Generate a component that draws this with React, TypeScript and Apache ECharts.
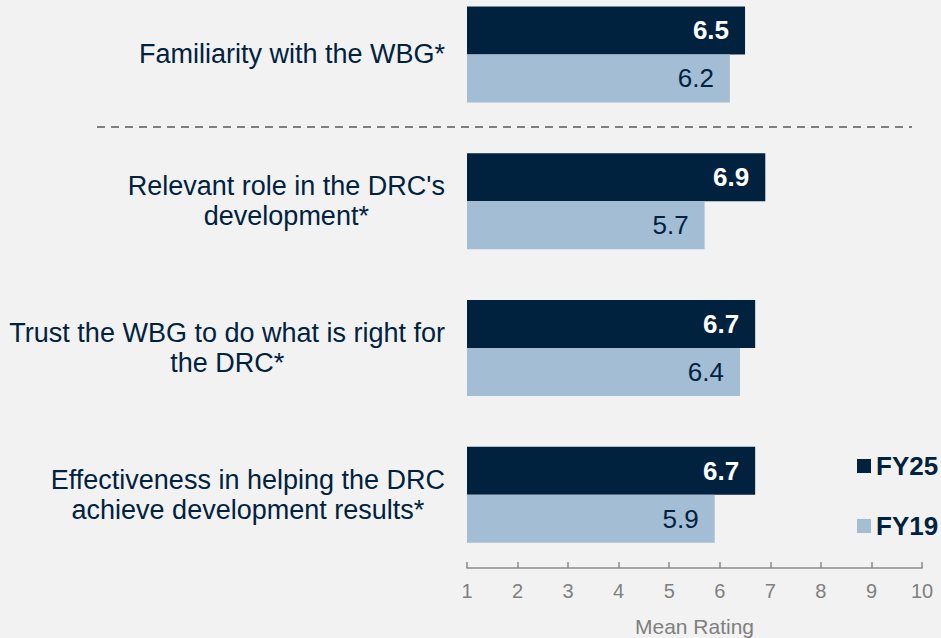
import React, { useEffect, useRef } from "react";
import * as echarts from "echarts";

const categories = [
  "Familiarity with the WBG*",
  "Relevant role in the DRC's\ndevelopment*",
  "Trust the WBG to do what is right for\nthe DRC*",
  "Effectiveness in helping the DRC\nachieve development results*",
];
const fy25Values = [6.5, 6.9, 6.7, 6.7];
const fy19Values = [6.2, 5.7, 6.4, 5.9];
const seriesNames = ["FY25", "FY19"];
const xTicks = { min: 1, max: 10, interval: 1 };

const NAVY = "#00223f";
const LIGHT = "#a3bdd5";
const GRAY = "#7f7f7f";
const OFFSET = 19;

export default function App() {
  const ref = useRef<HTMLDivElement>(null);
  useEffect(() => {
    document.body.style.margin = "0";
    document.body.style.background = "#f2f2f2";
    document.body.style.overflow = "hidden";
    const chart = echarts.init(ref.current!, undefined, { renderer: "svg" });
    const font = "'Liberation Sans', Arial, sans-serif";
    chart.setOption({
      animation: false,
      backgroundColor: "#f2f2f2",
      textStyle: { fontFamily: font },
      grid: {
        left: 467,
        right: 19,
        top: 0,
        bottom: 70,
        containLabel: false,
        outerBoundsMode: "none",
      },
      legend: {
        data: seriesNames,
        orient: "vertical",
        left: 852,
        top: 446 + OFFSET,
        icon: "rect",
        itemWidth: 14,
        itemHeight: 14,
        itemGap: 30,
        textStyle: { fontSize: 26, fontWeight: "bold", color: NAVY, fontFamily: font, lineHeight: 30 },
      },
      xAxis: {
        type: "value",
        min: xTicks.min,
        max: xTicks.max,
        interval: xTicks.interval,
        axisLine: { show: true, lineStyle: { color: "#8a8a8a", width: 1.5 } },
        axisTick: { show: true, inside: true, length: 6, lineStyle: { color: "#8a8a8a", width: 1.5 } },
        splitLine: { show: false },
        axisLabel: { fontSize: 20, color: GRAY, margin: 13, fontFamily: font },
        name: "Mean Rating",
        nameLocation: "middle",
        nameGap: 48,
        nameTextStyle: { fontSize: 21, color: GRAY, fontFamily: font },
      },
      yAxis: {
        type: "category",
        data: categories,
        inverse: true,
        axisLine: { show: false },
        axisTick: { show: false },
        axisLabel: {
          margin: 22,
          align: "right",
          formatter: (v: string) =>
            v
              .split("\n")
              .map((l) => `{c|${l}}`)
              .join("\n"),
          rich: {
            c: { align: "center", fontSize: 27, lineHeight: 30, color: NAVY, fontFamily: font },
          },
        },
      },
      series: [
        {
          name: seriesNames[0],
          type: "bar",
          data: fy25Values,
          barWidth: 48,
          barGap: "0%",
          itemStyle: { color: NAVY },
          label: {
            show: true,
            position: "insideRight",
            distance: 16,
            color: "#ffffff",
            fontWeight: "bold",
            fontSize: 26,
            fontFamily: font,
            formatter: (p: any) => Number(p.value).toFixed(1),
          },
        },
        {
          name: seriesNames[1],
          type: "bar",
          data: fy19Values,
          barWidth: 48,
          barGap: "0%",
          itemStyle: { color: LIGHT },
          label: {
            show: true,
            position: "insideRight",
            distance: 16,
            color: NAVY,
            fontSize: 26,
            fontFamily: font,
            formatter: (p: any) => Number(p.value).toFixed(1),
          },
        },
      ],
    });
    const y0 = chart.convertToPixel({ yAxisIndex: 0 }, 0) as number;
    const y1 = chart.convertToPixel({ yAxisIndex: 0 }, 1) as number;
    const mid = Math.round((y0 + y1) / 2) - 1;
    chart.setOption({
      graphic: [
        {
          type: "line",
          shape: { x1: 97, y1: mid, x2: 912, y2: mid },
          style: { stroke: "#595959", lineWidth: 1.5, lineDash: [8, 6] },
        },
      ],
    });
    return () => chart.dispose();
  }, []);
  return (
    <div
      ref={ref}
      style={{ position: "fixed", left: 0, top: -OFFSET, width: 941, height: 638 + OFFSET }}
    />
  );
}
